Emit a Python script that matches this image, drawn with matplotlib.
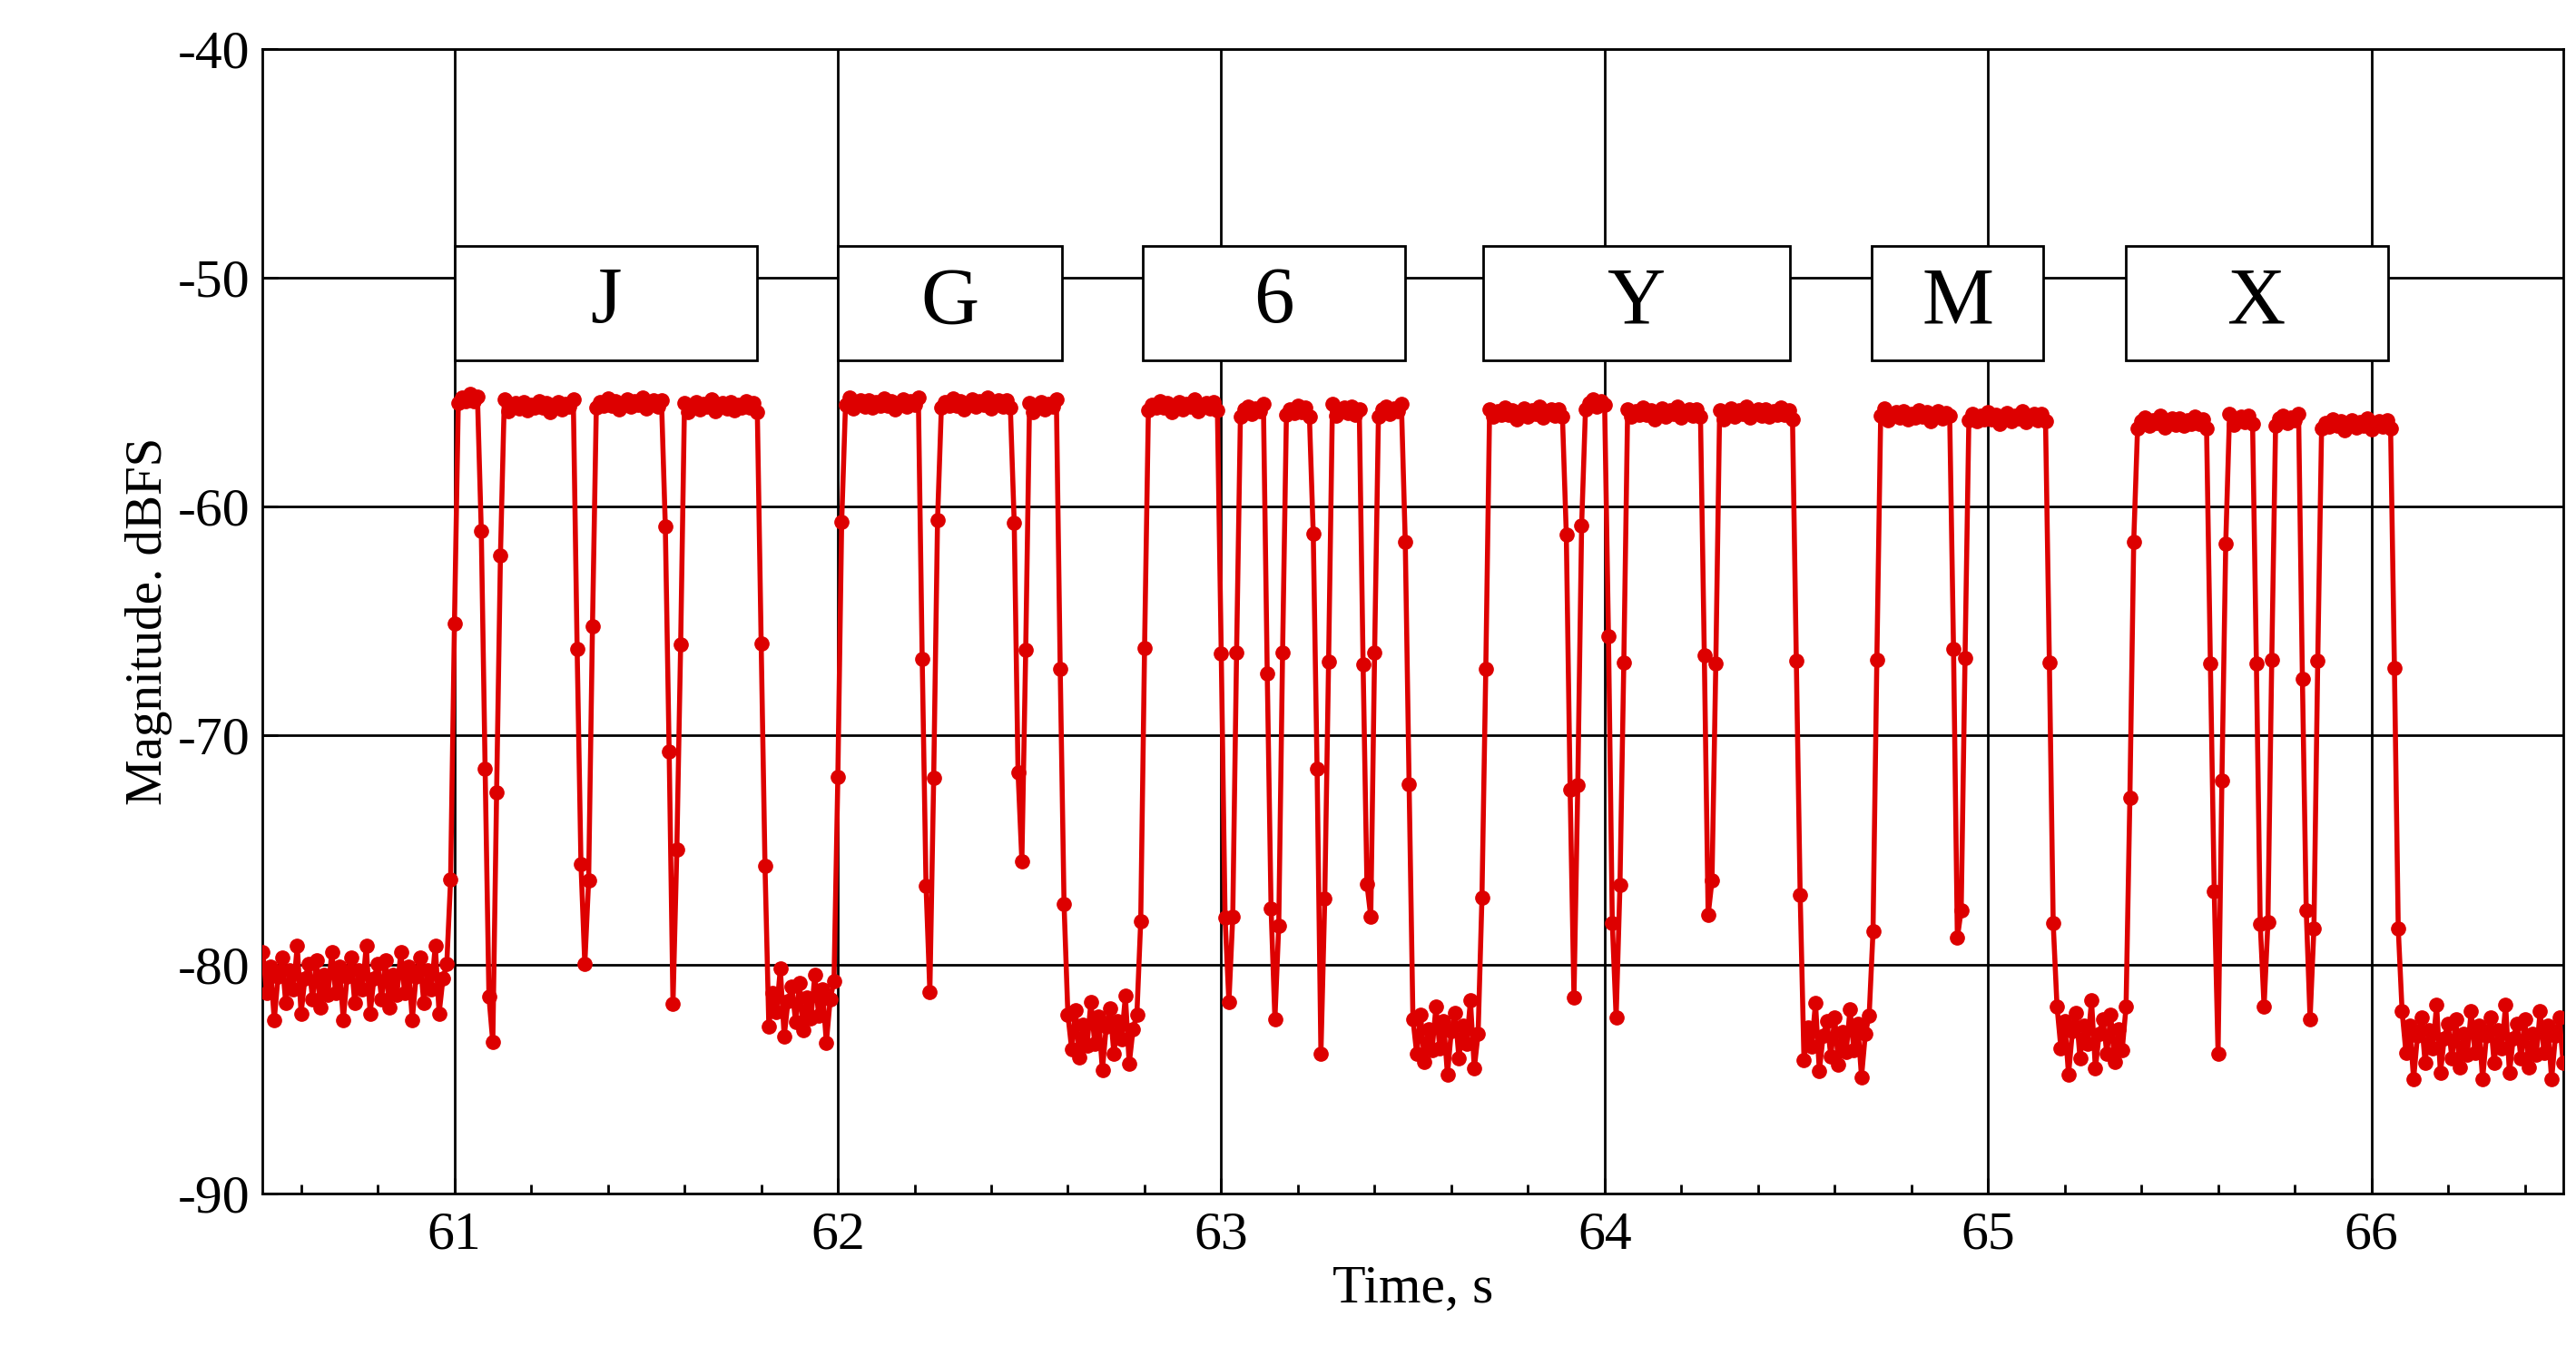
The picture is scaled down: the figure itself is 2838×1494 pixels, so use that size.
import numpy as np
import matplotlib
matplotlib.use("Agg")
import matplotlib.pyplot as plt
from matplotlib.patches import Rectangle

# Morse key-on intervals (s)
on_start = [61.01, 61.126, 61.37, 61.60, 62.015, 62.265, 62.50, 62.81, 63.05, 63.17, 63.29, 63.41,
            63.70, 63.945, 64.06, 64.30, 64.72, 64.95, 65.385, 65.625, 65.75, 65.87]
on_end   = [61.065, 61.31, 61.545, 61.79, 62.21, 62.455, 62.57, 62.99, 63.11, 63.235, 63.36, 63.475,
            63.895, 64.00, 64.25, 64.49, 64.90, 65.15, 65.57, 65.69, 65.81, 66.05]
on_level = [-55.3, -55.6, -55.5, -55.6, -55.5, -55.5, -55.6, -55.6, -55.8, -55.8, -55.8, -55.8,
            -55.9, -55.5, -55.9, -55.9, -56.0, -56.1, -56.3, -56.2, -56.2, -56.4]
# noise-floor level for each gap (before each key-on, plus the tail)
floor_level = [-80.8, -82.5, -80.8, -81.2, -81.8, -82.0, -81.8, -83.0, -83.0, -83.2, -83.0, -83.0,
               -83.2, -82.8, -82.5, -82.8, -83.3, -83.2, -83.2, -83.0, -83.2, -83.2, -83.4]
# hand-read floor ripple (dB), repeated along the floor
ripple = [1.5, -0.5, 0.8, -1.8, 0.3, 1.2, -1.0, 0.6, -0.3, 1.8, -1.5, 0.2, 0.9, -0.8, 1.1, -1.2, 0.4, -0.6]

t_min, t_max, dt = 60.5, 66.5, 0.01
ramp = 0.025

t = np.round(np.arange(t_min, t_max + 1e-9, dt), 4)
y = np.empty_like(t)
for i, ti in enumerate(t):
    k = np.searchsorted(on_start, ti, side="right")
    fl = floor_level[min(k, len(floor_level) - 1)]
    fl += 0.9 * ripple[i % len(ripple)]
    val = fl
    for a, b, h in zip(on_start, on_end, on_level):
        if a - ramp <= ti <= b + ramp:
            if ti < a + ramp * 0.01:
                f = 1 - (a - ti) / ramp
            elif ti > b:
                f = 1 - (ti - b) / ramp
            else:
                f = 1.0
            f = min(max(f, 0), 1)
            val = fl + (h - fl) * f + (0.15 * ripple[i % len(ripple)] if f == 1 else 0)
    y[i] = val

letters = ["J", "G", "6", "Y", "M", "X"]
box_x0 = [61.0, 62.0, 62.795, 63.684, 64.697, 65.359]
box_x1 = [61.79, 62.585, 63.48, 64.483, 65.145, 66.043]
box_y0, box_y1 = -53.6, -48.6

plt.rcParams['font.family'] = ['Liberation Serif', 'DejaVu Serif']
plt.rcParams['axes.unicode_minus'] = False
fig = plt.figure(figsize=(28.38, 14.94), dpi=100)
ax = fig.add_axes([0.102, 0.12, 0.893, 0.844])
ax.plot(t, y, color="#dd0000", lw=4, marker="o", ms=11, zorder=3)
ax.set_xlim(t_min, t_max)
ax.set_ylim(-90, -40)
ax.set_xticks([61, 62, 63, 64, 65, 66])
ax.set_xticks(np.arange(60.6, 66.5, 0.2), minor=True)
ax.set_yticks(np.arange(-90, -39, 10))
ax.grid(True, color="black", lw=2, zorder=1)
ax.tick_params(axis="both", which="both", direction="in", labelsize=43, width=2)
ax.tick_params(which="major", length=12)
ax.tick_params(which="minor", length=7)
ax.tick_params(axis="x", pad=14)
ax.tick_params(axis="y", pad=10)
for s in ax.spines.values():
    s.set_linewidth(2)
ax.set_xlabel("Time, s", fontsize=43)
ax.set_ylabel("Magnitude. dBFS", fontsize=41)

for L, a, b in zip(letters, box_x0, box_x1):
    ax.add_patch(Rectangle((a, box_y0), b - a, box_y1 - box_y0, facecolor="white",
                           edgecolor="black", lw=2, zorder=4))
    ax.text((a + b) / 2, (box_y0 + box_y1) / 2, L, ha="center", va="center",
            fontsize=64, zorder=5)

fig.savefig("out.png", dpi=100)
